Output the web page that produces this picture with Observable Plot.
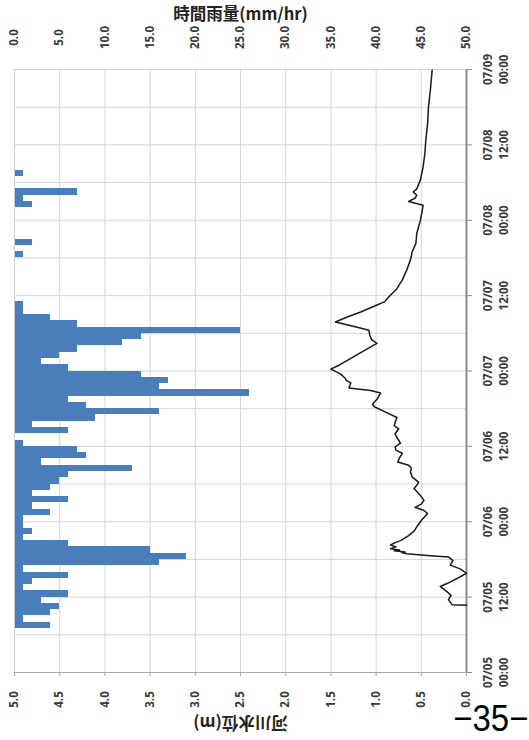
<!DOCTYPE html>
<html>
<head>
<meta charset="utf-8">
<script src="https://cdn.jsdelivr.net/npm/d3@7"></script>
<script src="https://cdn.jsdelivr.net/npm/@observablehq/plot@0.6"></script>
<style>
  body { margin: 0; background: #fff; }
  #wrap { position: relative; width: 529px; height: 740px; overflow: hidden; }
  #wrap svg { position: absolute; left: 0; top: 0; }
  #page {
    position: absolute; right: 1px; top: 704px;
    font: 37px "Liberation Sans", Arial, sans-serif; color: #000;
    transform: scaleX(0.89); transform-origin: right top;
    white-space: nowrap; line-height: 0.8;
  }
</style>
</head>
<body>
<div id="wrap"><div id="page">−35−</div></div>
<script>
// Hourly rainfall (mm/hr): hour offset from 07/05 00:00 and amount
const rainHour = [7, 8, 9, 10, 11, 12, 13, 14, 15, 16, 17, 18, 19, 20, 21, 22, 23, 24,
  25, 26, 27, 28, 29, 30, 31, 32, 33, 34, 35, 36, 38, 39, 40, 41, 42, 43, 44, 45, 46,
  47, 48, 49, 50, 51, 52, 53, 54, 55, 56, 57, 58, 66, 68, 74, 75, 76, 79];
const rainMM = [4, 1, 4, 5, 3, 6, 1, 2, 6, 1, 16, 19, 15, 6, 1, 2, 1, 1,
  4, 2, 6, 2, 4, 5, 6, 13, 3, 8, 7, 1, 6, 2, 9, 16, 8, 6, 26, 16, 17,
  14, 6, 3, 5, 7, 12, 14, 25, 7, 4, 1, 1, 1, 2, 2, 1, 7, 1];

// River water level (m): hour offset from 07/05 00:00 and level
const levelHour = [10.7, 10.8, 11.6, 12.3, 12.8, 13.7, 14.2, 15.0, 15.8, 16.5, 17.1, 17.8,
  18.4, 18.6, 18.9, 19.1, 19.2, 19.4, 19.5, 19.7, 20.0, 20.3, 20.6, 21.0, 21.8, 22.5,
  23.2, 24.2, 25.3, 25.8, 26.3, 26.8, 27.4, 28.0, 28.5, 29.3, 29.8, 30.3, 31.1, 31.9,
  32.5, 33.0, 33.5, 34.2, 34.9, 35.4, 35.9, 36.5, 37.2, 38.0, 38.8, 39.3, 39.8, 40.6,
  41.5, 42.3, 42.7, 43.5, 44.5, 44.9, 45.3, 46.1, 46.5, 46.8, 47.5, 48.3, 49.0, 50.0,
  51.0, 52.0, 52.4, 53.0, 53.7, 54.5, 55.0, 55.8, 56.6, 57.4, 58.5, 59.0, 60.1, 61.1,
  62.5, 64.1, 65.7, 67.0, 68.3, 69.9, 72.0, 73.5, 74.4, 75.0, 75.5, 76.0, 76.5, 77.0,
  78.4, 80.5, 82.7, 84.8, 87.4, 90.1, 92.7, 95.9];
const levelM = [0.00, 0.16, 0.20, 0.17, 0.21, 0.29, 0.21, 0.10, 0.00, 0.07, 0.18, 0.15,
  0.20, 0.40, 0.66, 0.72, 0.68, 0.80, 0.74, 0.84, 0.78, 0.84, 0.80, 0.73, 0.64, 0.58,
  0.55, 0.50, 0.43, 0.47, 0.57, 0.50, 0.47, 0.50, 0.53, 0.58, 0.55, 0.53, 0.60, 0.62,
  0.61, 0.64, 0.76, 0.74, 0.71, 0.78, 0.79, 0.73, 0.76, 0.79, 0.75, 0.80, 0.79, 0.77,
  0.90, 1.02, 1.04, 0.99, 0.95, 1.06, 1.30, 1.28, 1.33, 1.34, 1.39, 1.50, 1.40, 1.28,
  1.16, 1.04, 0.99, 1.05, 1.07, 1.08, 1.22, 1.45, 1.32, 1.17, 0.99, 0.91, 0.84, 0.77,
  0.71, 0.66, 0.62, 0.60, 0.56, 0.55, 0.51, 0.49, 0.48, 0.64, 0.57, 0.55, 0.59, 0.55,
  0.51, 0.48, 0.46, 0.45, 0.43, 0.42, 0.40, 0.38];

// Axis ticks
const rainTicks = [0, 5, 10, 15, 20, 25, 30, 35, 40, 45, 50];
const levelTicks = [5.0, 4.5, 4.0, 3.5, 3.0, 2.5, 2.0, 1.5, 1.0, 0.5, 0.0];
const timeTickLabels = ["07/05 00:00", "07/05 12:00", "07/06 00:00", "07/06 12:00",
  "07/07 00:00", "07/07 12:00", "07/08 00:00", "07/08 12:00", "07/09 00:00"];
const gridHours = [0, 6, 12, 18, 24, 30, 36, 42, 48, 54, 60, 66, 72, 78, 84, 90, 96];

const year = 2018;
const t0 = Date.UTC(year, 6, 5);
const hr = h => new Date(t0 + h * 3600e3);
const parseTick = s => d3.utcParse("%Y/%m/%d %H:%M")(year + "/" + s);
const timeTicks = timeTickLabels.map(parseTick);

const rain = rainHour.map((h, i) => ({t1: hr(h), t2: hr(h + 1), mm: rainMM[i]}));
const level = levelHour.map((h, i) => ({t: hr(h), m: levelM[i]}));
// the level axis runs along the same horizontal scale, reversed: 5 m at 0 mm, 0 m at 50 mm
const lvl = m => 50 - m * 10;

const labelFont = "'Open Sans', Lato, sans-serif";
const cjkFont = "'Noto Sans CJK JP', sans-serif";
const tickText = {rotate: -90, textAnchor: "middle", lineAnchor: "middle",
  fontSize: 11.5, fontWeight: 700, fill: "#3a3a3a", fontFamily: labelFont};

const chart = Plot.plot({
  width: 529,
  height: 740,
  marginTop: 69,
  marginBottom: 68,
  marginLeft: 14,
  marginRight: 63,
  style: {fontFamily: labelFont, background: "transparent"},
  x: {domain: [0, 50], axis: null},
  y: {type: "utc", domain: [hr(0), hr(96)], axis: null},
  marks: [
    Plot.gridX(rainTicks, {stroke: "#d6d6d6", strokeOpacity: 1, strokeWidth: 1}),
    Plot.gridY(gridHours.map(hr), {stroke: "#d6d6d6", strokeOpacity: 1, strokeWidth: 1}),
    Plot.rect(rain, {x1: () => 0, x2: "mm", y1: "t1", y2: "t2", fill: "#4a7ebb", shapeRendering: "crispEdges"}),
    Plot.ruleX([0], {stroke: "#cfcfcf"}),
    Plot.ruleY([hr(0)], {stroke: "#a6a6a6", strokeWidth: 1.2}),
    Plot.ruleX([50], {stroke: "#8c8c8c", strokeWidth: 2}),
    Plot.axisX({anchor: "bottom", ticks: rainTicks, tickSize: 4, tickFormat: () => "", label: null, stroke: "#a6a6a6"}),
    Plot.axisY({anchor: "right", ticks: timeTicks, tickSize: 5, tickFormat: () => "", label: null, stroke: "#8c8c8c"}),
    Plot.line(level, {x: d => lvl(d.m), y: "t", stroke: "#1a1a1a", strokeWidth: 1.5}),
    // rainfall tick labels (top)
    Plot.text(rainTicks, {x: d => d, frameAnchor: "top", dy: -32, text: d => d.toFixed(1), ...tickText}),
    // water level tick labels (bottom)
    Plot.text(levelTicks, {x: d => lvl(d), frameAnchor: "bottom", dy: 27, text: d => d.toFixed(1), ...tickText}),
    // date/time tick labels (right)
    Plot.text(timeTicks, {y: d => d, frameAnchor: "right", dx: 28,
      text: d => d3.utcFormat("%m/%d\n%H:%M")(d), lineHeight: 1.45, ...tickText}),
    // axis titles
    Plot.text(["時間雨量(mm/hr)"], {frameAnchor: "top", dy: -55, text: d => d,
      textAnchor: "middle", lineAnchor: "middle",
      fontSize: 16.5, fontWeight: "bold", fontFamily: cjkFont, fill: "#222"}),
    Plot.text(["河川水位(m)"], {frameAnchor: "bottom", dy: 50, rotate: 180, text: d => d,
      textAnchor: "middle", lineAnchor: "middle",
      fontSize: 16.5, fontWeight: "bold", fontFamily: cjkFont, fill: "#222"})
  ]
});
document.getElementById("wrap").prepend(chart);
</script>
</body>
</html>
